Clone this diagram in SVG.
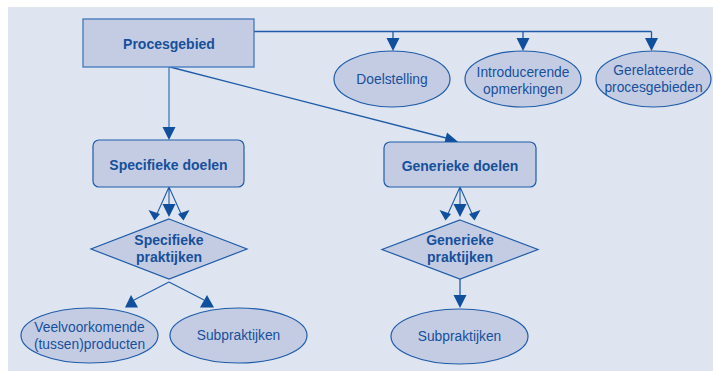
<svg xmlns="http://www.w3.org/2000/svg" width="713" height="371" viewBox="0 0 713 371">
  <style>
    .box { fill: #c4cce4; stroke: #3f78bb; stroke-width: 1.3; }
    .node { fill: #c4cce4; stroke: #1f5ca8; stroke-width: 1.2; }
    .bold { font-family: "Liberation Sans", Arial, sans-serif; font-weight: bold; font-size: 14px; fill: #17509a; text-anchor: middle; }
    .reg { font-family: "Liberation Sans", Arial, sans-serif; font-size: 13.8px; fill: #17509a; text-anchor: middle; }
    .edge { fill: none; stroke: #1f5ca8; stroke-width: 1.3; }
    .head { fill: #0f4f9c; }
  </style>
  <rect x="8" y="7" width="705" height="364" fill="#dee4f0"/>

  <g id="connectors">
    <!-- top bus to the three ellipses -->
    <path class="edge" d="M254 31.5 H651.5 M393 31.5 V40 M523 31.5 V40 M651.5 31.5 V40"/>
    <polygon class="head" points="386.5,38 399.5,38 393,51"/>
    <polygon class="head" points="516.5,38 529.5,38 523,51"/>
    <polygon class="head" points="645,38 658,38 651.5,51"/>
    <!-- Procesgebied to goals -->
    <path class="edge" d="M169 67 V128" style="stroke:#3f78bb"/>
    <polygon class="head" points="162.5,127 175.5,127 169,140"/>
    <path class="edge" d="M170 67 L450 139"/>
    <polygon class="head" points="447,132.6 444,144.4 460,143.5"/>
    <!-- Specifieke doelen fan -->
    <path class="edge" d="M169 187 L156 216 M169 187 V206 M169 187 L182 216" style="stroke-width:1.1"/>
    <polygon class="head" points="148.5,210 160,214 154.5,220.5"/>
    <polygon class="head" points="162.5,204 175.5,204 169,217"/>
    <polygon class="head" points="189.5,210 178,214 183.5,220.5"/>
    <!-- Generieke doelen fan -->
    <path class="edge" d="M460 187 L447 216 M460 187 V206 M460 187 L473 216" style="stroke-width:1.1"/>
    <polygon class="head" points="439.5,210 451,214 445.5,220.5"/>
    <polygon class="head" points="453.5,204 466.5,204 460,217"/>
    <polygon class="head" points="480.5,210 469,214 474.5,220.5"/>
    <!-- Specifieke praktijken to outputs -->
    <path class="edge" d="M169 282 L134 300 M169 282 L204 300" style="stroke-width:1.1"/>
    <polygon class="head" points="125,307.5 138,307.5 131,295"/>
    <polygon class="head" points="200,307.5 214,307.5 207,295"/>
    <!-- Generieke praktijken to subpraktijken -->
    <path class="edge" d="M460 279 V296"/>
    <polygon class="head" points="453.5,295 466.5,295 460,308"/>
  </g>

  <g id="procesgebied">
    <rect class="box" x="83" y="19" width="171" height="48"/>
    <text class="bold" x="169" y="49">Procesgebied</text>
  </g>

  <g id="doelstelling">
    <ellipse class="node" cx="392" cy="79" rx="58" ry="28"/>
    <text class="reg" x="392" y="84">Doelstelling</text>
  </g>

  <g id="introducerende-opmerkingen">
    <ellipse class="node" cx="523" cy="79" rx="58" ry="28"/>
    <text class="reg" x="523" y="77">Introducerende</text>
    <text class="reg" x="523" y="93.5">opmerkingen</text>
  </g>

  <g id="gerelateerde-procesgebieden">
    <ellipse class="node" cx="653.5" cy="79" rx="57.5" ry="28"/>
    <text class="reg" x="653.5" y="75">Gerelateerde</text>
    <text class="reg" x="653.5" y="91.5">procesgebieden</text>
  </g>

  <g id="specifieke-doelen">
    <rect class="node" x="93" y="140" width="151" height="47" rx="6"/>
    <text class="bold" x="168.5" y="170">Specifieke doelen</text>
  </g>

  <g id="generieke-doelen">
    <rect class="node" x="384" y="142" width="152" height="45" rx="6"/>
    <text class="bold" x="460" y="171">Generieke doelen</text>
  </g>

  <g id="specifieke-praktijken">
    <polygon class="node" points="169,219 247,249 169,279 91,249"/>
    <text class="bold" x="169" y="245">Specifieke</text>
    <text class="bold" x="169" y="261.5">praktijken</text>
  </g>

  <g id="generieke-praktijken">
    <polygon class="node" points="460,220 538,249.5 460,279 382,249.5"/>
    <text class="bold" x="460" y="245">Generieke</text>
    <text class="bold" x="460" y="261.5">praktijken</text>
  </g>

  <g id="veelvoorkomende-producten">
    <ellipse class="node" cx="89.5" cy="335.5" rx="68.5" ry="27.5"/>
    <text class="reg" x="89.5" y="332">Veelvoorkomende</text>
    <text class="reg" x="89.5" y="348.5">(tussen)producten</text>
  </g>

  <g id="subpraktijken-specifiek">
    <ellipse class="node" cx="238.5" cy="335.5" rx="68.5" ry="27.5"/>
    <text class="reg" x="238.5" y="340">Subpraktijken</text>
  </g>

  <g id="subpraktijken-generiek">
    <ellipse class="node" cx="459.5" cy="336.5" rx="68.5" ry="27.5"/>
    <text class="reg" x="459.5" y="341">Subpraktijken</text>
  </g>
</svg>
